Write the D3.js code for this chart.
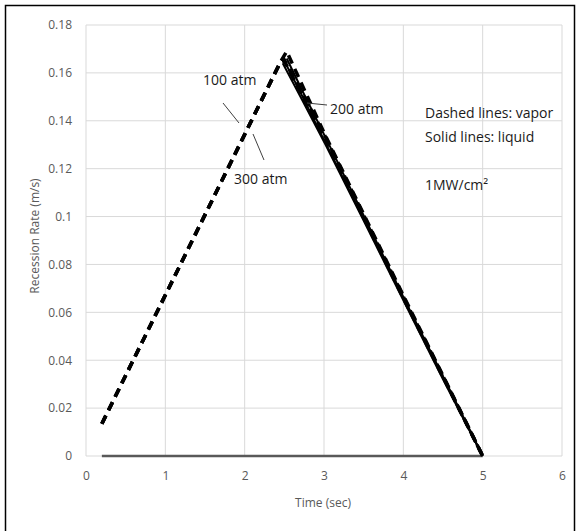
<!DOCTYPE html>
<html><head><meta charset="utf-8">
<script src="https://cdn.jsdelivr.net/npm/d3@7"></script>
<style>body{margin:0;background:#fff}svg{display:block}text{font-family:"Open Sans","Liberation Sans",sans-serif}</style>
</head><body>
<script>
const xTicks=[0,1,2,3,4,5,6];
const yTicks=[0,0.02,0.04,0.06,0.08,0.1,0.12,0.14,0.16,0.18];
const yTickLabels=["0","0.02","0.04","0.06","0.08","0.1","0.12","0.14","0.16","0.18"];
// vapor (dashed) series: [time, rate]
const vapor100=[[0.2,0.0135],[2.45,0.1645],[2.5,0.165],[3.0,0.133],[4.0,0.066],[5.0,0]];
const vapor200=[[0.2,0.0135],[2.45,0.1645],[2.53,0.169],[3.0,0.135],[4.0,0.067],[5.0,0]];
const vapor300=[[0.2,0.0135],[2.45,0.1645],[2.49,0.166],[3.0,0.1345],[4.0,0.0665],[5.0,0]];
// liquid (solid) series
const liquid100=[[2.5,0.165],[2.7,0.152],[3.0,0.132],[3.5,0.099],[4.0,0.066],[4.5,0.033],[5.0,0]];
const liquid200=[[2.53,0.166],[2.75,0.151],[3.05,0.131],[3.55,0.097],[4.02,0.065],[4.52,0.032],[5.0,0]];
const liquid300=[[2.48,0.164],[2.72,0.149],[3.02,0.130],[3.52,0.097],[4.0,0.065],[4.5,0.032],[5.0,0]];
const liquidBase=[[0.2,0],[5.0,0]];

const W=576,H=531;
const svg=d3.select("body").append("svg").attr("width",W).attr("height",H);
svg.append("rect").attr("x",5.5).attr("y",5.5).attr("width",569).attr("height",530).attr("fill","#fff").attr("stroke","#000").attr("stroke-width",1.5);

const x=d3.scaleLinear().domain([0,6]).range([86,562]);
const y=d3.scaleLinear().domain([0,0.18]).range([456,25]);
const grid=svg.append("g");
grid.selectAll(".v").data(xTicks).enter().append("line").attr("x1",d=>x(d)).attr("x2",d=>x(d)).attr("y1",y(0.18)).attr("y2",y(0)).attr("stroke","#d9d9d9").attr("stroke-width",1);
grid.selectAll(".h").data(yTicks).enter().append("line").attr("x1",x(0)).attr("x2",x(6)).attr("y1",d=>y(d)).attr("y2",d=>y(d)).attr("stroke","#d9d9d9").attr("stroke-width",1);

const ax=svg.append("g").attr("transform",`translate(0,${y(0)})`).call(d3.axisBottom(x).tickValues(xTicks).tickSize(0).tickPadding(15).tickFormat(d3.format("d")));
ax.select(".domain").remove();
ax.selectAll("text").attr("fill","#595959").style("font-size","12px");
const ay=svg.append("g").attr("transform",`translate(${x(0)},0)`).call(d3.axisLeft(y).tickValues(yTicks).tickSize(0).tickPadding(14).tickFormat((d,i)=>yTickLabels[i]));
ay.select(".domain").remove();
ay.selectAll("text").attr("fill","#595959").style("font-size","12px");

svg.append("text").attr("x",323).attr("y",507).attr("text-anchor","middle").attr("fill","#595959").style("font-size","12px").text("Time (sec)");
svg.append("text").attr("transform","translate(39,236) rotate(-90)").attr("text-anchor","middle").attr("fill","#595959").style("font-size","12px").text("Recession Rate (m/s)");

const line=d3.line().x(d=>x(d[0])).y(d=>y(d[1]));
svg.append("path").datum(liquidBase).attr("d",line).attr("fill","none").attr("stroke","#595959").attr("stroke-width",2.5);
[liquid100,liquid200,liquid300].forEach(s=>svg.append("path").datum(s).attr("d",line).attr("fill","none").attr("stroke","#000").attr("stroke-width",2));
[vapor100,vapor200,vapor300].forEach(s=>svg.append("path").datum(s).attr("d",line).attr("fill","none").attr("stroke","#000").attr("stroke-width",3.5).attr("stroke-dasharray","9,6"));

const ann=svg.append("g").attr("fill","#1a1a1a").style("font-size","14px");
ann.append("text").attr("x",203).attr("y",85).text("100 atm");
ann.append("text").attr("x",234).attr("y",184).text("300 atm");
ann.append("text").attr("x",330).attr("y",114).text("200 atm");
svg.append("line").attr("x1",223).attr("y1",103).attr("x2",239).attr("y2",123).attr("stroke","#404040");
svg.append("line").attr("x1",253).attr("y1",134).attr("x2",264).attr("y2",160).attr("stroke","#404040");
svg.append("line").attr("x1",307).attr("y1",103).attr("x2",327).attr("y2",105).attr("stroke","#404040");
const t2=svg.append("g").attr("fill","#1a1a1a").style("font-size","14px");
t2.append("text").attr("x",425).attr("y",118).text("Dashed lines: vapor");
t2.append("text").attr("x",425).attr("y",142).text("Solid lines: liquid");
t2.append("text").attr("x",425).attr("y",190).text("1MW/cm²");
</script>
</body></html>
